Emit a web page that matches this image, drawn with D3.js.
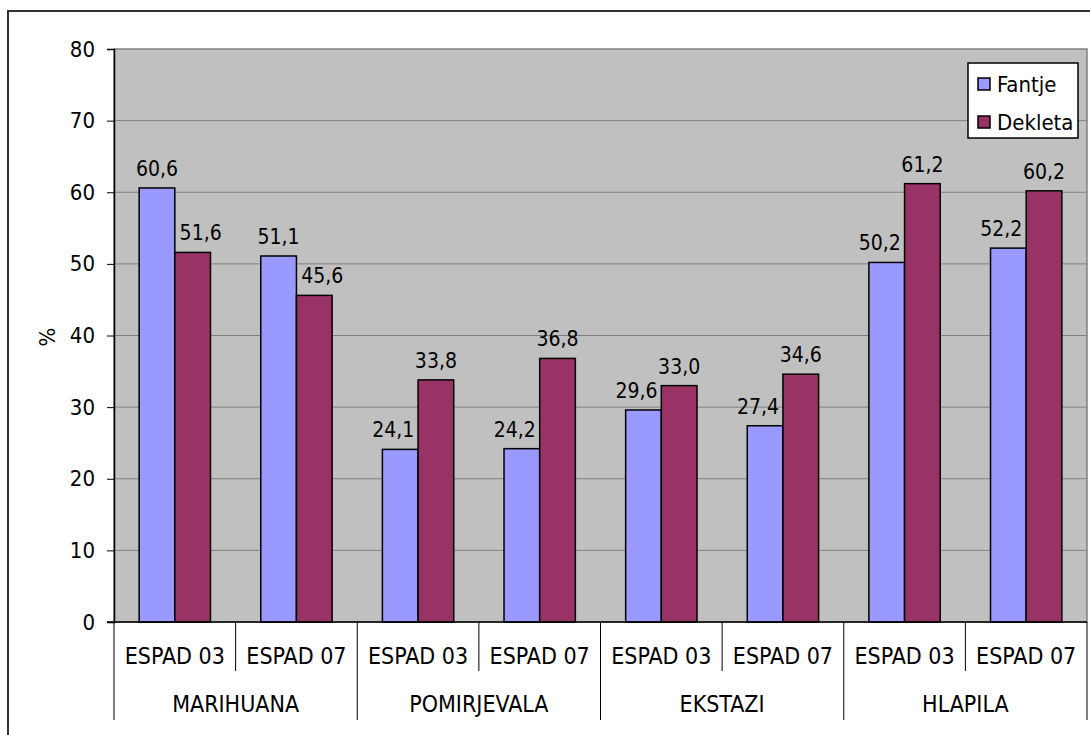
<!DOCTYPE html>
<html>
<head>
<meta charset="utf-8">
<script src="https://cdn.jsdelivr.net/npm/d3@7"></script>
<style>
  html, body { margin: 0; padding: 0; background: #fff; }
  svg { display: block; }
  text { font-family: "DejaVu Sans Condensed", "DejaVu Sans", sans-serif; font-stretch: condensed; fill: #000; }
</style>
</head>
<body>
<svg id="chart" width="1090" height="735"></svg>
<script>
const groups = ["MARIHUANA", "POMIRJEVALA", "EKSTAZI", "HLAPILA"];
const surveys = ["ESPAD 03", "ESPAD 07"];
const seriesNames = ["Fantje", "Dekleta"];
const fantje  = [60.6, 51.1, 24.1, 24.2, 29.6, 27.4, 50.2, 52.2];
const dekleta = [51.6, 45.6, 33.8, 36.8, 33.0, 34.6, 61.2, 60.2];
const yTicks = [0, 10, 20, 30, 40, 50, 60, 70, 80];
const colors = ["#9999FF", "#993366"];

const categories = [];
groups.forEach(g => surveys.forEach(s => categories.push({ group: g, survey: s, key: g + "|" + s })));
const series = [fantje, dekleta];

const svg = d3.select("#chart");
const L = 114, R = 1087, T = 49, B = 622;

// outer border
svg.append("rect").attr("x", 8).attr("y", 11).attr("width", 1200).attr("height", 800)
  .attr("fill", "#fff").attr("stroke", "#333").attr("stroke-width", 2);

const x = d3.scaleBand().domain(categories.map(d => d.key)).range([L, R]).paddingInner(0).paddingOuter(0);
const inner = d3.scaleBand().domain([0, 1]).range([0, x.bandwidth()]).paddingOuter(0.705).paddingInner(0);
const y = d3.scaleLinear().domain([0, 80]).range([B, T]);

// plot area
svg.append("rect").attr("x", L).attr("y", T).attr("width", R - L).attr("height", B - T)
  .attr("fill", "#C0C0C0").attr("stroke", "#808080").attr("stroke-width", 1.5);

// gridlines
svg.append("g").selectAll("line").data(yTicks.filter(t => t > 0 && t < 80)).join("line")
  .attr("x1", L).attr("x2", R).attr("y1", d => y(d)).attr("y2", d => y(d))
  .attr("stroke", "#808080").attr("stroke-width", 1);

// y axis
const yAxis = svg.append("g").attr("transform", `translate(${L},0)`)
  .call(d3.axisLeft(y).tickValues(yTicks).tickSize(7).tickPadding(12).tickFormat(d3.format("d")));
yAxis.select(".domain").attr("stroke", "#000").attr("stroke-width", 1.5);
yAxis.selectAll(".tick line").attr("stroke", "#000").attr("stroke-width", 1);
yAxis.selectAll(".tick text").attr("font-size", 22).attr("font-family", null);

// y label
svg.append("text").attr("transform", "translate(55,337) rotate(-90)")
  .attr("text-anchor", "middle").attr("font-size", 22).text("%");

// bars
const fmt = v => d3.format(".1f")(v).replace(".", ",");
series.forEach((vals, si) => {
  const other = series[1 - si];
  const g = svg.append("g");
  g.selectAll("rect").data(vals).join("rect")
    .attr("x", (d, i) => x(categories[i].key) + inner(si))
    .attr("y", d => y(d))
    .attr("width", inner.bandwidth())
    .attr("height", d => y(0) - y(d))
    .attr("fill", colors[si]).attr("stroke", "#000").attr("stroke-width", 1.5);
  g.selectAll("text").data(vals).join("text")
    .attr("x", (d, i) => {
      const cx = x(categories[i].key) + inner(si) + inner.bandwidth() / 2;
      // nudge a label away from a taller neighbouring bar
      if (other[i] > d) return si === 0 ? cx - 7 : cx + 8;
      return cx;
    })
    .attr("y", d => y(d) - 12)
    .attr("text-anchor", "middle").attr("font-size", 21)
    .text(d => fmt(d));
});

// x axis line
svg.append("line").attr("x1", L - 7).attr("x2", R).attr("y1", B).attr("y2", B)
  .attr("stroke", "#000").attr("stroke-width", 1.5);

// category separators
const bounds = d3.range(categories.length + 1);
svg.append("g").selectAll("line").data(bounds).join("line")
  .attr("x1", i => i < categories.length ? x(categories[i].key) : R)
  .attr("x2", i => i < categories.length ? x(categories[i].key) : R)
  .attr("y1", B)
  .attr("y2", i => i % 2 === 0 ? 720 : 671)
  .attr("stroke", "#000").attr("stroke-width", 1);

// sub labels
svg.append("g").selectAll("text").data(categories).join("text")
  .attr("x", d => x(d.key) + x.bandwidth() / 2).attr("y", 664)
  .attr("text-anchor", "middle").attr("font-size", 23).text(d => d.survey);

// group labels
svg.append("g").selectAll("text").data(groups).join("text")
  .attr("x", (g, gi) => x(categories[gi * 2].key) + x.bandwidth())
  .attr("y", 712).attr("text-anchor", "middle").attr("font-size", 23).text(g => g);

// legend
const lg = svg.append("g");
lg.append("rect").attr("x", 968).attr("y", 63).attr("width", 110).attr("height", 75)
  .attr("fill", "#fff").attr("stroke", "#000").attr("stroke-width", 1.5);
seriesNames.forEach((n, i) => {
  const yy = 84 + i * 38;
  lg.append("rect").attr("x", 978).attr("y", yy - 6).attr("width", 12).attr("height", 12)
    .attr("fill", colors[i]).attr("stroke", "#000").attr("stroke-width", 1.5);
  lg.append("text").attr("x", 997).attr("y", yy + 8).attr("font-size", 22).text(n);
});
</script>
</body>
</html>
